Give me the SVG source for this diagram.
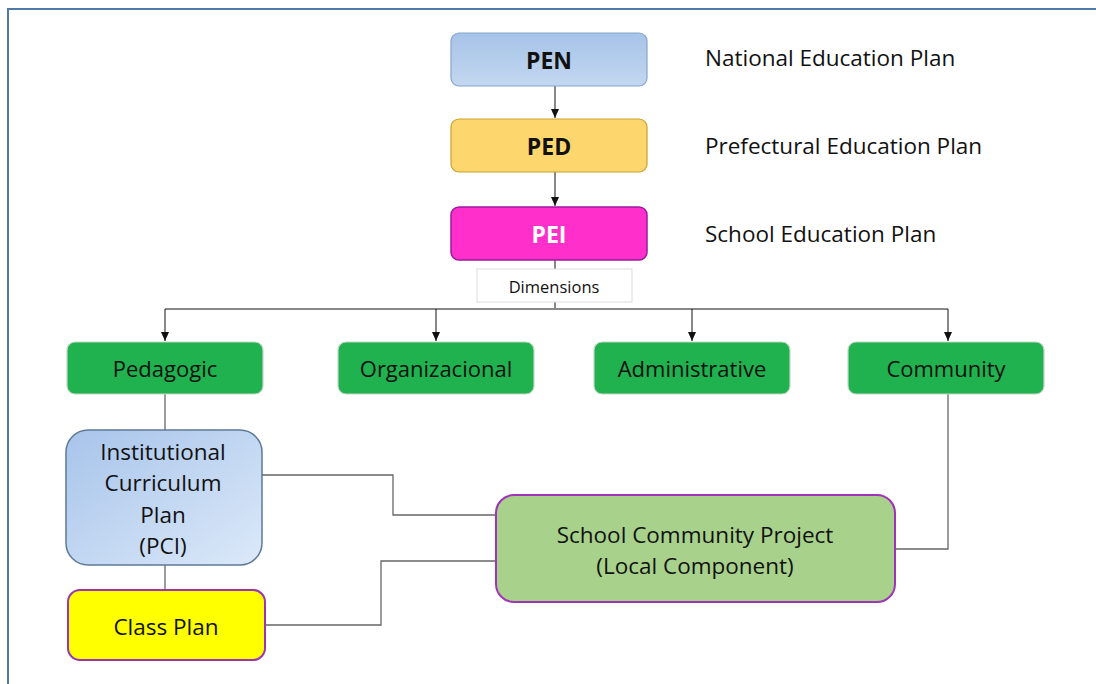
<svg xmlns="http://www.w3.org/2000/svg" width="1096" height="684" viewBox="0 0 1096 684">
<style>
text{font-family:"Open Sans","Liberation Sans",sans-serif;fill:#111;text-anchor:middle;dominant-baseline:central;font-size:22.5px}
.b{font-weight:bold;font-size:23px}
.lbl{text-anchor:start}
.g rect{fill:#1fb24f;stroke:#c5d6c8;stroke-width:1.2}
.g text{font-size:22px}
.c{fill:none;stroke:#666;stroke-width:1.3}
.a{fill:none;stroke:#111;stroke-width:1}
</style>
<defs>
<marker id="ah" markerWidth="10" markerHeight="10" refX="9" refY="5" orient="auto" markerUnits="userSpaceOnUse">
<path d="M0,1 L9,5 L0,9 z" fill="#111"/>
</marker>
<linearGradient id="gb" x1="0" y1="0" x2="0" y2="1"><stop offset="0" stop-color="#a6c3e8"/><stop offset="1" stop-color="#c3d7f0"/></linearGradient>
<linearGradient id="gp" x1="0" y1="0" x2="1" y2="1"><stop offset="0" stop-color="#a7c4ea"/><stop offset="1" stop-color="#dce9f9"/></linearGradient>
</defs>
<rect width="1096" height="684" fill="#fff"/>
<path d="M8,684 V9 H1096" fill="none" stroke="#4f7bab" stroke-width="2"/>
<g id="connectors">
<line class="a" x1="555" y1="86" x2="555" y2="118" marker-end="url(#ah)"/>
<line class="a" x1="555" y1="172" x2="555" y2="206" marker-end="url(#ah)"/>
<line class="a" x1="555" y1="260" x2="555" y2="269"/>
<line class="a" x1="555" y1="302" x2="555" y2="309"/>
<line x1="165" y1="309" x2="948" y2="309" stroke="#888" stroke-width="2"/>
<line class="a" x1="165" y1="309" x2="165" y2="341" marker-end="url(#ah)"/>
<line class="a" x1="436" y1="309" x2="436" y2="341" marker-end="url(#ah)"/>
<line class="a" x1="692" y1="309" x2="692" y2="341" marker-end="url(#ah)"/>
<line class="a" x1="948" y1="309" x2="948" y2="341" marker-end="url(#ah)"/>
<line class="c" x1="165" y1="394" x2="165" y2="430"/>
<line class="c" x1="165" y1="565" x2="165" y2="590"/>
<path class="c" d="M262,475 H393 V515 H496"/>
<path class="c" d="M265,625 H381 V561 H496"/>
<path class="c" d="M948,394 V549 H895"/>
</g>
<g id="pen">
<rect x="451" y="33" width="196" height="53" rx="8" fill="url(#gb)" stroke="#86a5cc" stroke-width="1.2"/>
<text class="b" x="549" y="60">PEN</text>
</g>
<g id="ped">
<rect x="451" y="119" width="196" height="53" rx="8" fill="#fed66e" stroke="#c7a132" stroke-width="1.2"/>
<text class="b" x="549" y="146">PED</text>
</g>
<g id="pei">
<rect x="451" y="207" width="196" height="53" rx="8" fill="#ff2fcb" stroke="#9c1a9e" stroke-width="1.5"/>
<text class="b" x="549" y="234" style="fill:#fff">PEI</text>
</g>
<g id="dimensions">
<rect x="477" y="269" width="155" height="33" fill="#fff" stroke="#ddd" stroke-width="1"/>
<text x="554" y="286" style="font-size:16.5px">Dimensions</text>
</g>
<text class="lbl" x="705" y="57">National Education Plan</text>
<text class="lbl" x="705" y="145">Prefectural Education Plan</text>
<text class="lbl" x="705" y="233">School Education Plan</text>
<g id="pedagogic" class="g">
<rect x="67" y="342" width="196" height="52" rx="8"/>
<text x="165" y="368">Pedagogic</text>
</g>
<g id="organizacional" class="g">
<rect x="338" y="342" width="196" height="52" rx="8"/>
<text x="436" y="368">Organizacional</text>
</g>
<g id="administrative" class="g">
<rect x="594" y="342" width="196" height="52" rx="8"/>
<text x="692" y="368">Administrative</text>
</g>
<g id="community" class="g">
<rect x="848" y="342" width="196" height="52" rx="8"/>
<text x="946" y="368">Community</text>
</g>
<g id="pci">
<rect x="66" y="430" width="196" height="135" rx="22" fill="url(#gp)" stroke="#5d7a99" stroke-width="1.5"/>
<text x="163" y="451">Institutional</text>
<text x="163" y="482">Curriculum</text>
<text x="163" y="514">Plan</text>
<text x="163" y="545">(PCI)</text>
</g>
<g id="classplan">
<rect x="68" y="590" width="197" height="70" rx="12" fill="#ffff00" stroke="#9a35b5" stroke-width="2"/>
<text x="166" y="626">Class Plan</text>
</g>
<g id="scp">
<rect x="496" y="495" width="399" height="107" rx="18" fill="#a8d18c" stroke="#a034b8" stroke-width="2"/>
<text x="695" y="534">School Community Project</text>
<text x="695" y="565">(Local Component)</text>
</g>
</svg>
